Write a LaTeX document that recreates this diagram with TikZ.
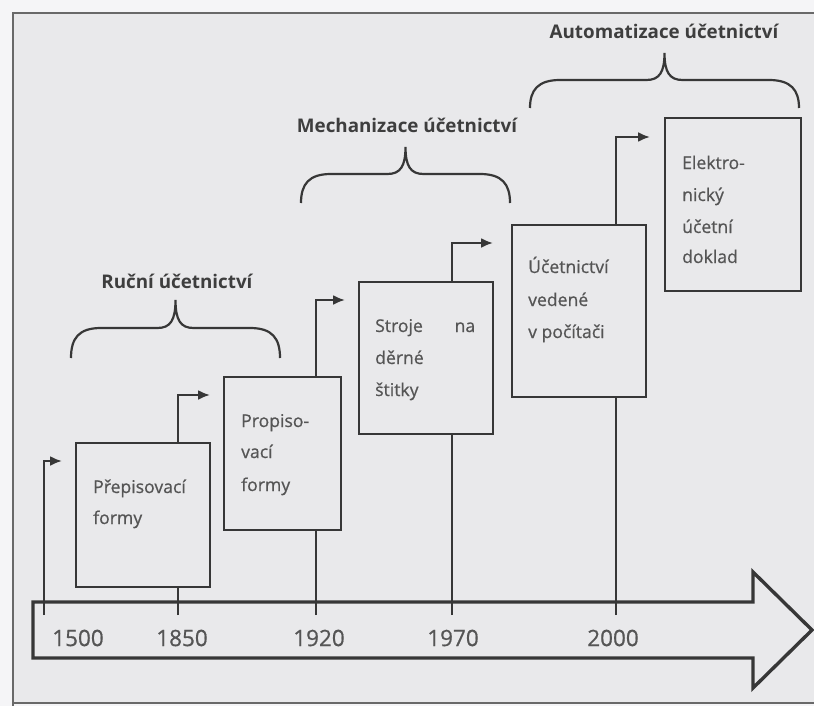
\documentclass[tikz,border=0pt]{standalone}
\usepackage{fontspec}
\setmainfont{Open Sans}
\newfontfamily\printfont{Open Sans}[FakeBold=0.7]
\usetikzlibrary{arrows.meta}
\definecolor{paper}{RGB}{233,233,235}
\definecolor{margin}{RGB}{245,245,247}
\definecolor{ink}{RGB}{55,55,55}
\definecolor{frameink}{RGB}{105,105,105}
\definecolor{boxtext}{RGB}{85,85,85}
\definecolor{headtext}{RGB}{62,62,62}
% curly bracket: left end, right end, foot y, bar y, tip y
\newcommand\erabrace[5]{%
  \draw[bracket] (#1,#3) .. controls (#1,{#4+10}) and ({#1+8},#4) .. ({#1+30},#4)
    -- ({(#1+#2)/2-18},#4) .. controls ({(#1+#2)/2-5},#4) and ({(#1+#2)/2},{#4-8}) .. ({(#1+#2)/2},#5)
    .. controls ({(#1+#2)/2},{#4-8}) and ({(#1+#2)/2+5},#4) .. ({(#1+#2)/2+18},#4)
    -- ({#2-30},#4) .. controls ({#2-8},#4) and (#2,{#4+10}) .. (#2,#3);}
\begin{document}
\begin{tikzpicture}[x=1pt,y=-1pt,
  stage/.style={draw=ink, line width=2.4pt, fill=paper, inner sep=0pt, anchor=north west},
  tick/.style={draw=ink, line width=2.2pt},
  riser/.style={tick, -{Latex[length=12pt,width=10pt]}},
  boxline/.style={anchor=base west, inner sep=0pt, text=boxtext, font=\printfont\fontsize{17.6}{20}\selectfont},
  era/.style={anchor=base, inner sep=0pt, text=headtext, font=\bfseries\fontsize{18.8}{22}\selectfont},
  year/.style={inner sep=0pt, text=boxtext, font=\printfont\fontsize{22.5}{26}\selectfont},
  bracket/.style={draw=ink, line width=2.2pt},
  axisline/.style={draw=ink, line width=3.4pt, line join=miter}]

\useasboundingbox (0,0) rectangle (814,706);
\fill[margin] (0,0) rectangle (814,706);
\fill[paper] (13,13) rectangle (814,703);
\draw[frameink, line width=2pt] (814,13) -- (13,13) -- (13,706);
\draw[frameink, line width=2pt] (13,703) -- (814,703);

% points on the time axis and the ends of the risers
\coordinate (t1) at (44,615);  \coordinate (e1) at (62,461);
\coordinate (t2) at (178,615); \coordinate (e2) at (210,395);
\coordinate (t3) at (316,615); \coordinate (e3) at (345,300);
\coordinate (t4) at (452,615); \coordinate (e4) at (493,243);
\coordinate (t5) at (616,615); \coordinate (e5) at (650,137);

\draw[riser] (t1) |- (e1);
\draw[riser] (t2) |- (e2);
\draw[riser] (t3) |- (e3);
\draw[riser] (t4) |- (e4);
\draw[riser] (t5) |- (e5);

% the five stages
\node[stage, minimum width=134pt, minimum height=144pt] (b1) at (75,442) {};
\node[stage, minimum width=117pt, minimum height=153pt] (b2) at (223,376) {};
\node[stage, minimum width=134pt, minimum height=152pt] (b3) at (358,281) {};
\node[stage, minimum width=134pt, minimum height=172pt] (b4) at (511,224) {};
\node[stage, minimum width=136pt, minimum height=173pt] (b5) at (664,117) {};

\node[boxline] (b1a) at (93,493) {Přepisovací};
\node[boxline] (b1b) at (93,524) {formy};

\node[boxline] (b2a) at (241,427) {Propiso-};
\node[boxline] (b2b) at (241,458) {vací};
\node[boxline] (b2c) at (241,491) {formy};

\node[boxline] (b3a) at (375,332) {\makebox[100pt][l]{Stroje\hfill na}};
\node[boxline] (b3b) at (375,364) {děrné};
\node[boxline] (b3c) at (375,396) {štitky};

\node[boxline] (b4a) at (528,273) {Účetnictví};
\node[boxline] (b4b) at (528,306) {vedené};
\node[boxline] (b4c) at (528,338) {v počítači};

\node[boxline] (b5a) at (682,169) {Elektro-};
\node[boxline] (b5b) at (682,201) {nický};
\node[boxline] (b5c) at (682,233) {účetní};
\node[boxline] (b5d) at (682,263) {doklad};

% time axis
\draw[axisline] (33,602) -- (753,602) -- (753,572) -- (812,630) -- (753,688)
  -- (753,658) -- (33,658) -- cycle;

\node[year] (y1) at (78,638) {1500};
\node[year] (y2) at (182,638) {1850};
\node[year] (y3) at (319,638) {1920};
\node[year] (y4) at (453,638) {1970};
\node[year] (y5) at (613,638) {2000};

% eras
\erabrace{71}{280}{358}{328}{300}
\erabrace{301}{510}{203}{174}{147}
\erabrace{530}{799}{108}{80}{53}

\node[era] (era1) at (177,288) {Ruční účetnictví};
\node[era] (era2) at (407,133) {Mechanizace účetnictví};
\node[era] (era3) at (664,39) {Automatizace účetnictví};
\end{tikzpicture}
\end{document}
